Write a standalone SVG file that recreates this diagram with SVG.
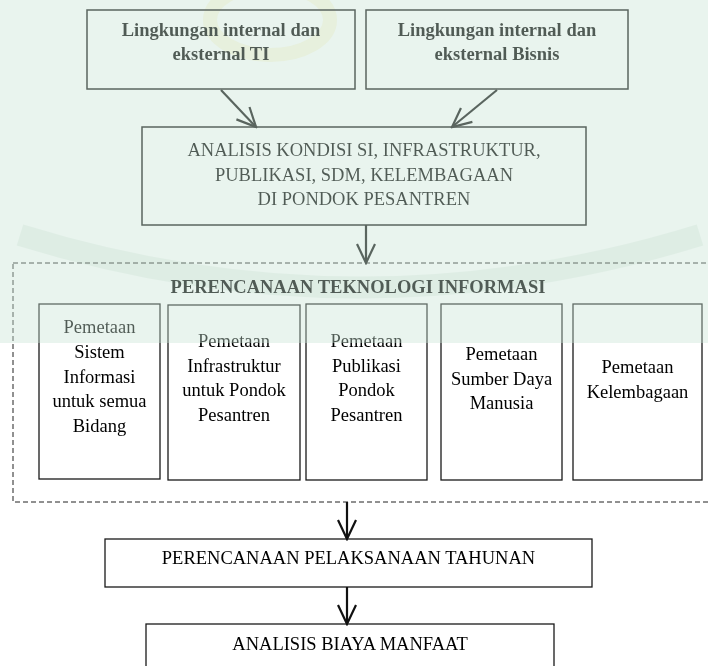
<svg xmlns="http://www.w3.org/2000/svg" width="708" height="666" viewBox="0 0 708 666">
<style>
text{font-family:"Liberation Serif","Times New Roman",serif;text-anchor:middle;fill:#000}
.t{font-size:18.5px}
.b{font-size:18.5px;font-weight:bold}
.m{font-size:18.5px}
.box{fill:none;stroke:#111;stroke-width:1.5}
.ibox{fill:none;stroke:#1a1a1a;stroke-width:1.3}
.arr{fill:none;stroke:#111;stroke-width:2.2;marker-end:url(#v)}
</style>
<defs>
<marker id="v" viewBox="-22 -11 24 22" refX="0" refY="0" markerWidth="24" markerHeight="22" markerUnits="userSpaceOnUse" orient="auto">
<path d="M-19,-9 L0,0 L-19,9" fill="none" stroke="#111" stroke-width="2.2"/>
</marker>
</defs>
<rect width="708" height="666" fill="#fff"/>
<g id="watermark" opacity="0.5">
<ellipse cx="270" cy="20" rx="60" ry="35" fill="none" stroke="#f3e7a0" stroke-width="14" opacity="0.6"/>
<path d="M20,235 Q360,340 700,235" fill="none" stroke="#b9d4c2" stroke-width="22" opacity="0.5"/>
</g>
<g id="n1">
<rect class="box" x="87" y="10" width="268" height="79"/>
<text class="b" x="221" y="36">Lingkungan internal dan</text>
<text class="b" x="221" y="60">eksternal TI</text>
</g>
<g id="n2">
<rect class="box" x="366" y="10" width="262" height="79"/>
<text class="b" x="497" y="36">Lingkungan internal dan</text>
<text class="b" x="497" y="60">eksternal Bisnis</text>
</g>
<g id="n3">
<rect class="box" x="142" y="127" width="444" height="98"/>
<text class="t" x="364" y="156">ANALISIS KONDISI SI, INFRASTRUKTUR,</text>
<text class="t" x="364" y="181">PUBLIKASI, SDM, KELEMBAGAAN</text>
<text class="t" x="364" y="205">DI PONDOK PESANTREN</text>
</g>
<g id="group-pti">
<rect x="13" y="263" width="720" height="239" fill="none" stroke="#222" stroke-width="1" stroke-dasharray="5,3"/>
<text class="b" x="358" y="293">PERENCANAAN TEKNOLOGI INFORMASI</text>
</g>
<g id="p1">
<rect class="ibox" x="39" y="304" width="121" height="175"/>
<text class="m" x="99.5" y="333">Pemetaan</text>
<text class="m" x="99.5" y="358">Sistem</text>
<text class="m" x="99.5" y="383">Informasi</text>
<text class="m" x="99.5" y="407">untuk semua</text>
<text class="m" x="99.5" y="432">Bidang</text>
</g>
<g id="p2">
<rect class="ibox" x="168" y="305" width="132" height="175"/>
<text class="m" x="234" y="347">Pemetaan</text>
<text class="m" x="234" y="372">Infrastruktur</text>
<text class="m" x="234" y="396">untuk Pondok</text>
<text class="m" x="234" y="421">Pesantren</text>
</g>
<g id="p3">
<rect class="ibox" x="306" y="304" width="121" height="176"/>
<text class="m" x="366.5" y="347">Pemetaan</text>
<text class="m" x="366.5" y="372">Publikasi</text>
<text class="m" x="366.5" y="396">Pondok</text>
<text class="m" x="366.5" y="421">Pesantren</text>
</g>
<g id="p4">
<rect class="ibox" x="441" y="304" width="121" height="176"/>
<text class="m" x="501.5" y="360">Pemetaan</text>
<text class="m" x="501.5" y="385">Sumber Daya</text>
<text class="m" x="501.5" y="409">Manusia</text>
</g>
<g id="p5">
<rect class="ibox" x="573" y="304" width="129" height="176"/>
<text class="m" x="637.5" y="373">Pemetaan</text>
<text class="m" x="637.5" y="398">Kelembagaan</text>
</g>
<g id="n4">
<rect class="ibox" x="105" y="539" width="487" height="48"/>
<text class="t" x="348.5" y="564">PERENCANAAN PELAKSANAAN TAHUNAN</text>
</g>
<g id="n5">
<rect class="ibox" x="146" y="624" width="408" height="60"/>
<text class="t" x="350" y="650">ANALISIS BIAYA MANFAAT</text>
</g>
<g id="connectors">
<line class="arr" x1="221" y1="90" x2="256" y2="127"/>
<line class="arr" x1="497" y1="90" x2="452" y2="127"/>
<line class="arr" x1="366" y1="225" x2="366" y2="263"/>
<line class="arr" x1="347" y1="502" x2="347" y2="539"/>
<line class="arr" x1="347" y1="587" x2="347" y2="624"/>
</g>
<rect id="tint" x="0" y="0" width="708" height="343" fill="rgb(200,227,212)" opacity="0.4"/>
</svg>
